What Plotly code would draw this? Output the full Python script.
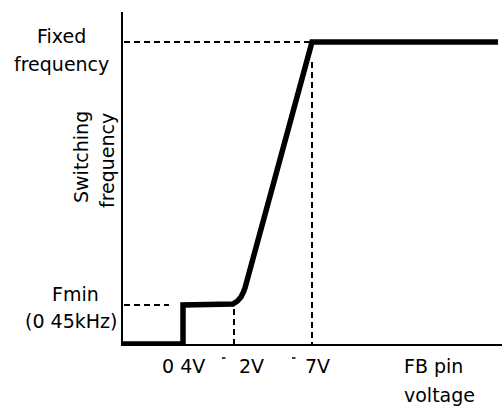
import plotly.graph_objects as go

# Schematic data (1 unit = 100 px on the drawing)
curve_x = [0.00, 0.60, 0.60, 1.05, 1.10, 1.145, 1.18, 1.205, 1.22, 1.89, 3.75]
curve_y = [0.00, 0.00, 0.39, 0.39, 0.40, 0.43, 0.47, 0.52, 0.56, 3.02, 3.02]

fixed_level = 3.02
fmin_level = 0.39
v_knee = 1.11
v_top = 1.89

FONT = "DejaVu Sans, Verdana, sans-serif"
FS = 19
L, T, W, H = 123, 12, 379, 332

fig = go.Figure()

dash = dict(color="black", width=2, dash="6px,4px")
fig.add_trace(go.Scatter(x=[0.01, v_top - 0.02], y=[fixed_level, fixed_level], mode="lines", line=dash, hoverinfo="skip"))
fig.add_trace(go.Scatter(x=[v_top, v_top], y=[fixed_level - 0.2, 0], mode="lines", line=dash, hoverinfo="skip"))
fig.add_trace(go.Scatter(x=[0.01, 0.46], y=[fmin_level, fmin_level], mode="lines", line=dash, hoverinfo="skip"))
fig.add_trace(go.Scatter(x=[v_knee, v_knee], y=[fmin_level - 0.04, 0], mode="lines", line=dash, hoverinfo="skip"))

fig.add_trace(go.Scatter(x=curve_x, y=curve_y, mode="lines",
                         line=dict(color="black", width=5.5), hoverinfo="skip"))

fig.add_shape(type="path", path="M 2.25 -0.16 L 2.42 -0.02 L 2.70 -0.70 L 2.40 -0.70 Z",
              xref="x", yref="y", fillcolor="#e6e6e6", line=dict(width=0), layer="below")

def px2paper(px, py):
    return (px - L) / W, (T + H - py) / H

def ann(px, py, text, anchor="center", angle=0):
    x, y = px2paper(px, py)
    fig.add_annotation(x=x, y=y, xref="paper", yref="paper",
                       text=text, showarrow=False, textangle=angle,
                       font=dict(family=FONT, size=FS, color="black"),
                       xanchor=anchor, yanchor="middle")

# x-axis labels
ann(160, 366, "0 4V", "left")
ann(237, 366, "2V", "left")
ann(303, 366, "7V", "left")
for x0 in (222, 292):
    a, b = px2paper(x0, 358)
    c, _ = px2paper(x0 + 3.5, 358)
    fig.add_shape(type="line", xref="paper", yref="paper", x0=a, x1=c, y0=b, y1=b,
                  line=dict(color="black", width=1.5))
ann(402, 366, "FB pin", "left")
ann(402, 395, "voltage", "left")

# y-axis labels
ann(61, 36, "Fixed")
ann(61, 64, "frequency")
ann(81, 157, "Switching", angle=-90)
ann(107, 161, "frequency", angle=-90)
ann(75, 294, "Fmin")
ann(119, 321, "(0 45kHz)", "right")

fig.update_layout(
    width=502, height=412,
    margin=dict(l=L, r=0, t=T, b=412 - T - H),
    paper_bgcolor="white", plot_bgcolor="white",
    showlegend=False,
    xaxis=dict(range=[0, 3.79], showgrid=False, zeroline=False, showticklabels=False,
               showline=True, linecolor="black", linewidth=1.6, ticks="", fixedrange=True),
    yaxis=dict(range=[0, 3.32], showgrid=False, zeroline=False, showticklabels=False,
               showline=True, linecolor="black", linewidth=2.2, ticks="", fixedrange=True),
)

fig.write_html("out.html", config={"displayModeBar": False},
               post_script="document.body.style.margin='0';document.body.style.overflow='hidden';")
